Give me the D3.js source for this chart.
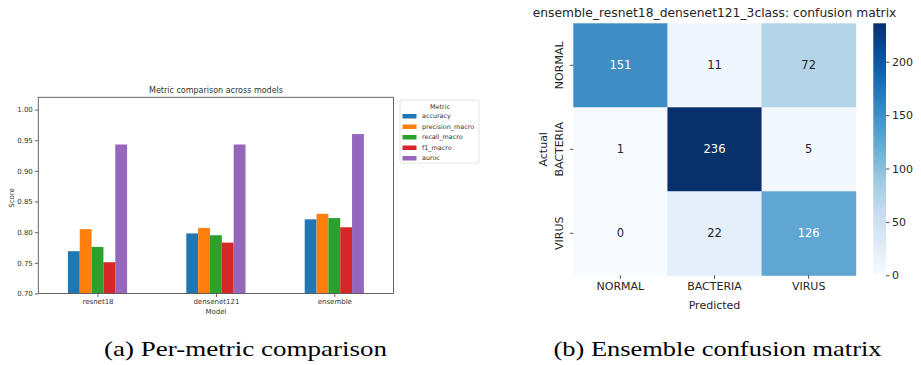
<!DOCTYPE html>
<html>
<head>
<meta charset="utf-8">
<script src="https://cdn.jsdelivr.net/npm/d3@7"></script>
<style>
  body { margin: 0; background: #fff; }
  text { font-family: "DejaVu Sans", sans-serif; }
  .cap { font-family: "Liberation Serif", "DejaVu Serif", serif; }
</style>
</head>
<body>
<svg id="fig" width="921" height="365"></svg>
<script>
// ---- data: metric comparison (a)
const models = ["resnet18", "densenet121", "ensemble"];
const metrics = ["accuracy", "precision_macro", "recall_macro", "f1_macro", "auroc"];
const accuracy = [0.769, 0.798, 0.821];
const precisionMacro = [0.805, 0.807, 0.830];
const recallMacro = [0.776, 0.795, 0.823];
const f1Macro = [0.751, 0.783, 0.808];
const auroc = [0.943, 0.943, 0.960];
const scoreTicks = [0.70, 0.75, 0.80, 0.85, 0.90, 0.95, 1.00];

// ---- data: confusion matrix (b)
const classes = ["NORMAL", "BACTERIA", "VIRUS"];
const cmNormal = [151, 11, 72];
const cmBacteria = [1, 236, 5];
const cmVirus = [0, 22, 126];
const cbarTicks = [0, 50, 100, 150, 200];

const metricColors = ["#1f77b4", "#ff7f0e", "#2ca02c", "#d62728", "#9467bd"];
const seriesValues = [accuracy, precisionMacro, recallMacro, f1Macro, auroc];

const svg = d3.select("#fig");
svg.append("rect").attr("width", 921).attr("height", 365).attr("fill", "#fff");

// ================= (a) grouped bars =================
const a = svg.append("g");
const x = d3.scaleLinear().domain([-0.5, 2.5]).range([38.3, 393.5]);
const y = d3.scaleLinear().domain([0.70, 1.02]).range([293.5, 97.3]);
const barW = 0.1;

metrics.forEach((m, j) => {
  a.append("g").selectAll("rect")
    .data(seriesValues[j])
    .enter().append("rect")
    .attr("x", (d, i) => x(i + (j - 2.5) * barW))
    .attr("width", x(barW) - x(0))
    .attr("y", d => y(d))
    .attr("height", d => y(0.70) - y(d))
    .attr("fill", metricColors[j]);
});

const yAx = a.append("g")
  .attr("transform", "translate(38.3,0)")
  .call(d3.axisLeft(y).tickValues(scoreTicks).tickFormat(d3.format(".2f")).tickSize(3.5).tickPadding(2));
yAx.select(".domain").remove();
yAx.selectAll("text").attr("font-size", 7).attr("fill", "#333").attr("font-family", "DejaVu Sans");
yAx.selectAll("line").attr("stroke", "#444").attr("stroke-width", 0.8);

const xAx = a.append("g")
  .attr("transform", "translate(0,293.5)")
  .call(d3.axisBottom(x).tickValues([0, 1, 2]).tickFormat(i => models[i]).tickSize(3.5).tickPadding(2));
xAx.select(".domain").remove();
xAx.selectAll("text").attr("font-size", 7).attr("fill", "#333").attr("font-family", "DejaVu Sans");
xAx.selectAll("line").attr("stroke", "#444").attr("stroke-width", 0.8);

a.append("rect")
  .attr("x", 38.3).attr("y", 97.3)
  .attr("width", 393.5 - 38.3).attr("height", 293.5 - 97.3)
  .attr("fill", "none").attr("stroke", "#555").attr("stroke-width", 0.9);

a.append("text").attr("x", 216).attr("y", 92.5).attr("text-anchor", "middle")
  .attr("font-size", 8).attr("fill", "#333").text("Metric comparison across models");
a.append("text").attr("x", 216).attr("y", 314).attr("text-anchor", "middle")
  .attr("font-size", 7).attr("fill", "#333").text("Model");
a.append("text").attr("transform", "translate(13.5,198) rotate(-90)").attr("text-anchor", "middle")
  .attr("font-size", 7).attr("fill", "#333").text("Score");

// legend
const lg = a.append("g").attr("transform", "translate(400,100)");
lg.append("rect").attr("width", 79).attr("height", 63).attr("rx", 2)
  .attr("fill", "#fff").attr("stroke", "#ddd").attr("stroke-width", 0.8);
lg.append("text").attr("x", 40).attr("y", 9).attr("text-anchor", "middle")
  .attr("font-size", 6.4).attr("fill", "#333").text("Metric");
const li = lg.selectAll("g.item").data(metrics).enter().append("g")
  .attr("transform", (d, j) => `translate(2.5,${16 + j * 10.5})`);
li.append("rect").attr("x", 0).attr("y", -2).attr("width", 14).attr("height", 4.5)
  .attr("fill", (d, j) => metricColors[j]);
li.append("text").attr("x", 19.5).attr("y", 2.2).attr("font-size", 6.4)
  .attr("fill", "#333").text(d => d);

// ================= (b) confusion matrix =================
const b = svg.append("g");
const cm = [cmNormal, cmBacteria, cmVirus];
const vmax = d3.max(cm.flat());
const blues = ["#f7fbff", "#deebf7", "#c6dbef", "#9ecae1", "#6baed6", "#4292c6", "#2171b5", "#08519c", "#08306b"];
const color = d3.scaleLinear()
  .domain(blues.map((c, i) => vmax * i / (blues.length - 1)))
  .range(blues).interpolate(d3.interpolateRgb);

const cx = d3.scaleBand().domain(classes).range([573.3, 855.7]);
const cy = d3.scaleBand().domain(classes).range([23.3, 275.3]);

const cells = [];
cm.forEach((row, r) => row.forEach((v, c) => cells.push({ r: classes[r], c: classes[c], v })));

b.selectAll("rect.cell").data(cells).enter().append("rect")
  .attr("x", d => cx(d.c)).attr("y", d => cy(d.r))
  .attr("width", cx.bandwidth() + 0.5).attr("height", cy.bandwidth() + 0.5)
  .attr("fill", d => color(d.v));

b.selectAll("text.ann").data(cells).enter().append("text")
  .attr("x", d => cx(d.c) + cx.bandwidth() / 2)
  .attr("y", d => cy(d.r) + cy.bandwidth() / 2)
  .attr("dy", "0.36em").attr("text-anchor", "middle").attr("font-size", 11.5)
  .attr("fill", d => d.v > vmax * 0.5 ? "#fff" : "#262626")
  .text(d => d.v);

const cxAx = b.append("g").attr("transform", "translate(0,275.3)")
  .call(d3.axisBottom(cx).tickSize(3.5).tickPadding(3));
cxAx.select(".domain").remove();
cxAx.selectAll("text").attr("font-size", 11).attr("fill", "#262626").attr("font-family", "DejaVu Sans");
cxAx.selectAll("line").attr("stroke", "#262626").attr("stroke-width", 0.8);

const cyAx = b.append("g").attr("transform", "translate(573.3,0)")
  .call(d3.axisLeft(cy).tickSize(3.5).tickPadding(3));
cyAx.select(".domain").remove();
cyAx.selectAll("text")
  .attr("font-size", 11).attr("fill", "#262626").attr("font-family", "DejaVu Sans")
  .attr("text-anchor", "middle").attr("dy", 0)
  .attr("transform", "translate(-10.5,0) rotate(-90)")
  .attr("x", 0).attr("y", 0);
cyAx.selectAll("line").attr("stroke", "#262626").attr("stroke-width", 0.8);

b.append("text").attr("x", 714.5).attr("y", 309).attr("text-anchor", "middle")
  .attr("font-size", 11).attr("fill", "#262626").text("Predicted");
b.append("text").attr("transform", "translate(546.5,149.3) rotate(-90)").attr("text-anchor", "middle")
  .attr("font-size", 11).attr("fill", "#262626").text("Actual");
b.append("text").attr("x", 714.5).attr("y", 16.5).attr("text-anchor", "middle")
  .attr("font-size", 12.3).attr("fill", "#262626")
  .text("ensemble_resnet18_densenet121_3class: confusion matrix");

// colorbar
const cb = d3.scaleLinear().domain([0, vmax]).range([275.3, 23.3]);
const defs = svg.append("defs");
const grad = defs.append("linearGradient").attr("id", "cbg")
  .attr("x1", 0).attr("y1", 1).attr("x2", 0).attr("y2", 0);
blues.forEach((c, i) => grad.append("stop").attr("offset", i / (blues.length - 1)).attr("stop-color", c));
b.append("rect").attr("x", 873.3).attr("y", 23.3).attr("width", 12.7).attr("height", 252)
  .attr("fill", "url(#cbg)");
const cbAx = b.append("g").attr("transform", "translate(886,0)")
  .call(d3.axisRight(cb).tickValues(cbarTicks).tickSize(3.5).tickPadding(2.5));
cbAx.select(".domain").remove();
cbAx.selectAll("text").attr("font-size", 11).attr("fill", "#262626").attr("font-family", "DejaVu Sans");
cbAx.selectAll("line").attr("stroke", "#262626").attr("stroke-width", 0.8);

// ================= captions =================
svg.append("text").attr("class", "cap").attr("x", 245.5).attr("y", 356).attr("text-anchor", "middle")
  .attr("font-size", 22).attr("fill", "#000")
  .attr("textLength", 283).attr("lengthAdjust", "spacingAndGlyphs")
  .text("(a) Per-metric comparison");
svg.append("text").attr("class", "cap").attr("x", 717.5).attr("y", 356).attr("text-anchor", "middle")
  .attr("font-size", 22).attr("fill", "#000")
  .attr("textLength", 328).attr("lengthAdjust", "spacingAndGlyphs")
  .text("(b) Ensemble confusion matrix");
</script>
</body>
</html>
